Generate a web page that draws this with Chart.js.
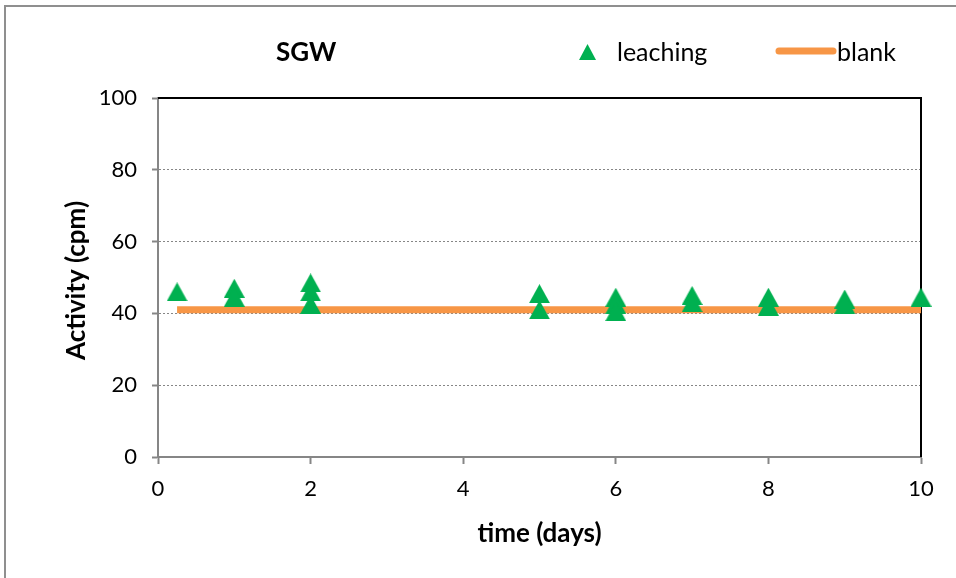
<!DOCTYPE html>
<html>
<head>
<meta charset="utf-8">
<script src="https://cdn.jsdelivr.net/npm/chart.js@4/dist/chart.umd.min.js"></script>
<style>
  html, body { margin: 0; padding: 0; background: #fff; }
  #wrap { width: 956px; height: 578px; position: relative; }
</style>
</head>
<body>
<div id="wrap"><canvas id="c" width="956" height="578"></canvas></div>
<script>
// Leaching measurements (SGW), activity in cpm per sampling day
const leachDays   = [0.25, 1, 1, 2, 2, 2, 5, 5, 6, 6, 6, 7, 7, 8, 8, 9, 9, 10];
const leachValues = [46, 47, 44.5, 48.5, 46, 42.5, 45.5, 41, 44.5, 42.5, 40.5, 45, 43, 44.5, 42, 44, 42.5, 44.5];

// Blank (background) level
const blankDays   = [0.25, 1, 2, 5, 6, 7, 8, 9, 10];
const blankValues = [41, 41, 41, 41, 41, 41, 41, 41, 41];

const xTicks = [0, 2, 4, 6, 8, 10];
const yTicks = [0, 20, 40, 60, 80, 100];

const GREEN = '#00B050';
const ORANGE = '#F79646';
const GRAY = '#868686';
const FONT = 'Lato, "Open Sans", sans-serif';

// Triangle marker centred on its bounding box
function triangleImage(w, h, color) {
  const c = document.createElement('canvas');
  c.width = w; c.height = h;
  const g = c.getContext('2d');
  g.fillStyle = color;
  g.beginPath();
  g.moveTo(w / 2, 0);
  g.lineTo(w, h);
  g.lineTo(0, h);
  g.closePath();
  g.fill();
  return c;
}
const marker = triangleImage(21, 19, GREEN);

const frameAndLabels = {
  id: 'frameAndLabels',
  beforeDraw(chart) {
    const ctx = chart.ctx;
    ctx.save();
    ctx.fillStyle = '#fff';
    ctx.fillRect(0, 0, chart.width, chart.height);
    ctx.strokeStyle = '#8f8f8f';
    ctx.lineWidth = 2;
    ctx.beginPath();
    ctx.moveTo(5, chart.height);
    ctx.lineTo(5, 6);
    ctx.lineTo(chart.width, 6);
    ctx.stroke();
    ctx.restore();
  },
  beforeDatasetsDraw(chart) {
    const { ctx, chartArea: a } = chart;
    ctx.save();
    ctx.strokeStyle = '#000';
    ctx.lineWidth = 2;
    ctx.beginPath();
    ctx.moveTo(a.left, a.top);
    ctx.lineTo(a.right, a.top);
    ctx.lineTo(a.right, a.bottom);
    ctx.stroke();
    ctx.restore();
  },
  afterDraw(chart) {
    const { ctx, chartArea: a } = chart;
    ctx.save();
    ctx.fillStyle = '#000';
    ctx.textBaseline = 'middle';

    // title
    ctx.font = 'bold 26px ' + FONT;
    ctx.textAlign = 'left';
    ctx.fillText('SGW', 276, 53);

    // legend
    ctx.drawImage(triangleImage(17, 16, GREEN), 579, 44);
    ctx.font = '25px ' + FONT;
    ctx.fillText('leaching', 617, 53);
    ctx.strokeStyle = ORANGE;
    ctx.lineWidth = 7;
    ctx.lineCap = 'round';
    ctx.beginPath();
    ctx.moveTo(779, 51);
    ctx.lineTo(833, 51);
    ctx.stroke();
    ctx.fillText('blank', 837, 53);

    // axis titles
    ctx.font = 'bold 26px ' + FONT;
    ctx.textAlign = 'center';
    ctx.fillText('time (days)', (a.left + a.right) / 2, 534);
    ctx.translate(77, (a.top + a.bottom) / 2 + 3);
    ctx.rotate(-Math.PI / 2);
    ctx.fillText('Activity (cpm)', 0, 0);
    ctx.restore();
  }
};

new Chart(document.getElementById('c'), {
  type: 'scatter',
  data: {
    datasets: [
      {
        label: 'blank',
        data: blankDays.map((d, i) => ({ x: d, y: blankValues[i] })),
        showLine: true,
        borderColor: ORANGE,
        borderWidth: 7,
        pointRadius: 0,
        pointHoverRadius: 0,
        clip: false,
        order: 2
      },
      {
        label: 'leaching',
        data: leachDays.map((d, i) => ({ x: d, y: leachValues[i] })),
        showLine: false,
        pointStyle: marker,
        backgroundColor: GREEN,
        borderColor: GREEN,
        clip: false,
        order: 1
      }
    ]
  },
  options: {
    responsive: false,
    animation: false,
    events: [],
    layout: { padding: { left: 0, right: 35, top: 98, bottom: 0 } },
    plugins: {
      legend: { display: false },
      title: { display: false },
      tooltip: { enabled: false }
    },
    scales: {
      x: {
        type: 'linear',
        min: 0, max: 10,
        afterBuildTicks: s => { s.ticks = xTicks.map(v => ({ value: v })); },
        afterFit: s => { s.height = 121; },
        ticks: { color: '#000', font: { family: FONT, size: 22 }, padding: 12 },
        grid: { drawOnChartArea: false, drawTicks: true, tickLength: 7, tickColor: GRAY, tickWidth: 2 },
        border: { display: true, color: GRAY, width: 2 }
      },
      y: {
        type: 'linear',
        min: 0, max: 100,
        afterBuildTicks: s => { s.ticks = yTicks.map(v => ({ value: v })); },
        afterFit: s => { s.width = 158; },
        ticks: { color: '#000', font: { family: FONT, size: 22 }, padding: 15 },
        grid: {
          color: c => (c.tick && (c.tick.value === 0 || c.tick.value === 100)) ? 'rgba(0,0,0,0)' : GRAY,
          lineWidth: 1,
          tickColor: GRAY,
          tickWidth: 2,
          tickLength: 6,
          tickBorderDash: []
        },
        border: { display: true, color: GRAY, width: 2, dash: [2, 2] }
      }
    }
  },
  plugins: [frameAndLabels]
});
</script>
</body>
</html>
